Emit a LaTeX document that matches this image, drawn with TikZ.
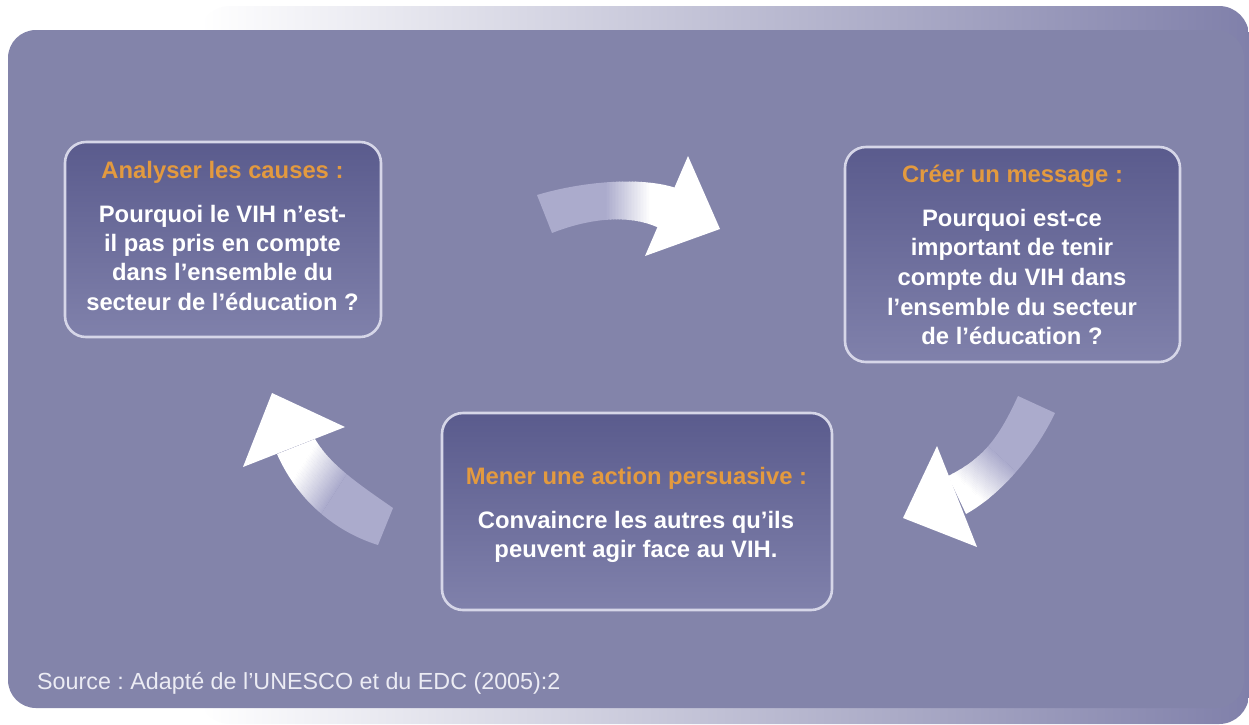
\documentclass[tikz,border=0pt]{standalone}
\usepackage{fontspec}
\setmainfont{Liberation Sans}
\frenchspacing
\definecolor{panel}{RGB}{131,132,170}
\definecolor{stripend}{RGB}{128,128,170}
\definecolor{boxtop}{RGB}{90,91,141}
\definecolor{boxbot}{RGB}{128,129,171}
\definecolor{boxline}{RGB}{214,214,232}
\definecolor{titleor}{RGB}{227,154,63}
\definecolor{lav}{RGB}{171,171,204}
\definecolor{srcgray}{RGB}{236,236,244}
\newcommand\fadeband[4]{%
  \begin{scope}[shift={(#1,#2)},rotate=#3]
    \fill[lav] (-300,-300) -- (-#4,-300) -- (-#4,300) -- (-300,300) -- cycle;
    \foreach \i in {0,...,29}{%
      \pgfmathsetmacro\xa{-#4+2*#4*\i/30}%
      \pgfmathsetmacro\xb{-#4+2*#4*(\i+1)/30+0.4}%
      \pgfmathsetmacro\pc{100*(\i+0.5)/30}%
      \fill[white!\pc!lav] (\xa,-300) -- (\xb,-300) -- (\xb,300) -- (\xa,300) -- cycle;
    }
    \fill[white] (#4,-300) -- (300,-300) -- (300,300) -- (#4,300) -- cycle;
  \end{scope}}
\begin{document}
\begin{tikzpicture}[x=1pt,y=-1pt,
  box/.style={draw=boxline, line width=2.6pt, rounded corners=21pt,
    top color=boxtop, bottom color=boxbot, inner sep=0pt},
  titletxt/.style={anchor=base, inner sep=0pt, text=titleor,
    font=\bfseries\fontsize{23.8}{28}\selectfont},
  bodytxt/.style={anchor=base, inner sep=0pt, text=white,
    font=\bfseries\fontsize{23.8}{28}\selectfont},
  srctxt/.style={anchor=base west, inner sep=0pt, text=srcgray,
    font=\fontsize{23.3}{28}\selectfont},
  headfill/.style={fill=white}]
\useasboundingbox (0,0) rectangle (1249,724);
\fill[white] (0,0) rectangle (1249,724);
% background strip and panel
\shade[left color=white, right color=stripend, rounded corners=30pt]
  (200,6) rectangle (1249,724);
\fill[panel, rounded corners=28pt] (8,30) rectangle (1244,708);

% boxes
\node[box, minimum width=316pt, minimum height=195pt] (b1) at (223,239.5) {};
\node[box, minimum width=335pt, minimum height=215pt] (b2) at (1012.5,254.5) {};
\node[box, minimum width=390pt, minimum height=197pt] (b3) at (637,511.5) {};

% box 1 text
\node[titletxt] (t1) at (222.5,178) {Analyser les causes :};
\node[bodytxt] (d1a) at (222.5,222.5) {Pourquoi le VIH n’est-};
\node[bodytxt] (d1b) at (222.5,251.7) {il pas pris en compte};
\node[bodytxt] (d1c) at (222.5,280.9) {dans l’ensemble du};
\node[bodytxt] (d1d) at (222.5,310.1) {secteur de l’éducation ?};

% box 2 text
\node[titletxt] (t2) at (1012.5,182.7) {Créer un message :};
\node[bodytxt] (d2a) at (1012,226.3) {Pourquoi est-ce};
\node[bodytxt] (d2b) at (1012,255.9) {important de tenir};
\node[bodytxt] (d2c) at (1012,285.5) {compte du VIH dans};
\node[bodytxt] (d2d) at (1012,315.1) {l’ensemble du secteur};
\node[bodytxt] (d2e) at (1012,344.7) {de l’éducation ?};

% box 3 text
\node[titletxt] (t3) at (636.5,484.3) {Mener une action persuasive :};
\node[bodytxt] (d3a) at (636,528.3) {Convaincre les autres qu’ils};
\node[bodytxt] (d3b) at (636,557.6) {peuvent agir face au VIH.};

% arrow 1 (top)
\begin{scope}
  \clip (537,195) .. controls (580,182) and (640,176) .. (676,188)
     -- (659,228) .. controls (630,214) and (590,218) .. (552,233) -- cycle;
  \fadeband{628}{208}{0}{22}
\end{scope}
\fill[headfill] (688,156) -- (720,229) -- (645,256) -- cycle;

% arrow 2 (right)
\begin{scope}
  \clip (1018,396) .. controls (1000,435) and (985,458) .. (948,476)
     -- (966,514) .. controls (1000,495) and (1035,455) .. (1055,413) -- cycle;
  \fadeband{985}{473}{227.7}{22}
\end{scope}
\fill[headfill] (937,446) -- (903,518) -- (977,547) -- cycle;

% arrow 3 (left)
\begin{scope}
  \clip (393,508) .. controls (360,485) and (330,465) .. (315,439)
     -- (277,454) .. controls (295,495) and (330,530) .. (378,545) -- cycle;
  \fadeband{318}{480}{147.4}{21}
\end{scope}
\fill[headfill] (272,393) -- (345,427) -- (243,467) -- cycle;

% source
\node[srctxt] (src) at (37,689.5) {Source : Adapté de l’UNESCO et du EDC (2005):2};
\end{tikzpicture}
\end{document}
